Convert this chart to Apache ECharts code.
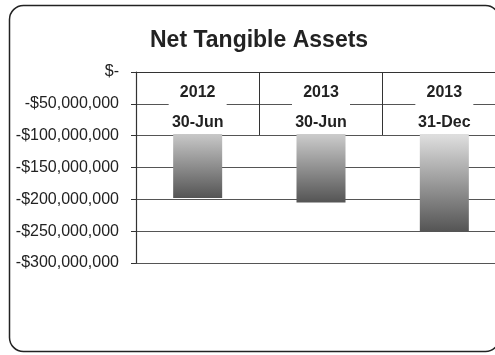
<!DOCTYPE html>
<html>
<head>
<meta charset="utf-8">
<script src="https://cdn.jsdelivr.net/npm/echarts@6/dist/echarts.min.js"></script>
<style>
  html, body { margin: 0; padding: 0; background: #fff; }
  #chart { width: 495px; height: 355px; }
</style>
</head>
<body>
<div id="chart"></div>
<script>
// Reporting periods (year on the first line, day on the second)
var periodYears = ['2012', '2013', '2013'];
var periodDays = ['30-Jun', '30-Jun', '31-Dec'];
// Net tangible assets in dollars (negative)
var netTangibleAssets = [-198000000, -205000000, -251000000];
// Value axis range
var axisMin = -300000000;
var axisMax = 0;
var axisStep = 50000000;

function formatDollars(v) {
  if (v === 0) return '$-';
  var s = Math.abs(v).toString().replace(/\B(?=(\d{3})+(?!\d))/g, ',');
  return (v < 0 ? '-$' : '$') + s;
}

var categories = periodYears.map(function (y, i) { return y + '|' + periodDays[i]; });

var chart = echarts.init(document.getElementById('chart'), null, { renderer: 'canvas' });

var labelFont = 'Liberation Sans, Arial, sans-serif';

var option = {
  animation: false,
  backgroundColor: '#ffffff',
  textStyle: { fontFamily: labelFont },
  title: {
    text: 'Net Tangible Assets',
    left: 145,
    top: 24,
    textStyle: {
      fontFamily: labelFont,
      fontSize: 23,
      fontWeight: 'bold',
      color: '#222'
    }
  },
  graphic: [{
    type: 'rect',
    shape: { x: 9.5, y: 5.5, width: 490, height: 346, r: 14 },
    style: { fill: 'none', stroke: '#222', lineWidth: 1.5 },
    z: 100
  }],
  grid: {
    left: 136, top: 72, width: 370, height: 191,
    containLabel: false,
    outerBoundsMode: 'none'
  },
  xAxis: {
    type: 'category',
    position: 'top',
    data: categories,
    z: 10,
    axisLine: { show: true, lineStyle: { color: '#333', width: 1.2 } },
    axisTick: { show: true, inside: true, length: 63, lineStyle: { color: '#333', width: 1 } },
    axisLabel: {
      inside: true,
      margin: 2,
      interval: 0,
      formatter: function (v) {
        var p = v.split('|');
        return '{y|' + p[0] + '}\n{d|' + p[1] + '}';
      },
      rich: {
        y: {
          fontFamily: labelFont,
          fontSize: 16, fontWeight: 'bold', color: '#222',
          backgroundColor: '#fff', width: 58, height: 38, align: 'center'
        },
        d: {
          fontFamily: labelFont,
          fontSize: 16, fontWeight: 'bold', color: '#222',
          backgroundColor: '#fff', width: 52, height: 22, align: 'center'
        }
      }
    }
  },
  yAxis: {
    type: 'value',
    min: axisMin,
    max: axisMax,
    interval: axisStep,
    z: 0,
    axisLine: { show: true, lineStyle: { color: '#333', width: 1.2 } },
    axisTick: { show: true, length: 5, lineStyle: { color: '#333' } },
    axisLabel: {
      margin: 17,
      fontFamily: labelFont,
      fontSize: 16,
      color: '#222',
      formatter: formatDollars
    },
    splitLine: { show: true, lineStyle: { color: '#555', width: 1 } }
  },
  series: [{
    type: 'bar',
    data: netTangibleAssets,
    barWidth: 49,
    z: 2,
    itemStyle: {
      color: new echarts.graphic.LinearGradient(0, 0, 0, 1, [
        { offset: 0, color: '#ffffff' },
        { offset: 0.4, color: '#dddddd' },
        { offset: 1, color: '#545454' }
      ])
    }
  }]
};

chart.setOption(option);
</script>
</body>
</html>
